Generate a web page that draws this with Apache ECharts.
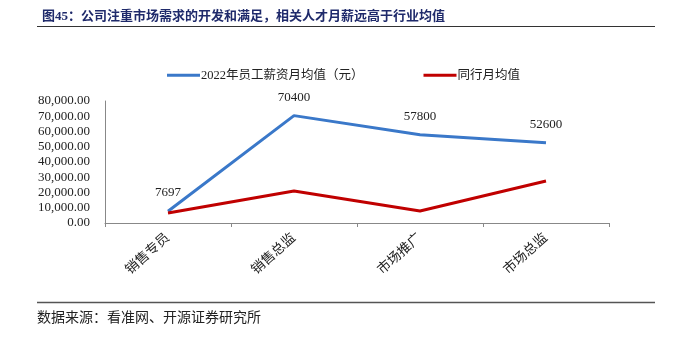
<!DOCTYPE html>
<html><head><meta charset="utf-8">
<script src="https://cdn.jsdelivr.net/npm/echarts@6/dist/echarts.min.js"></script>
<style>html,body{margin:0;padding:0;background:#fff}#c{width:673px;height:341px}</style>
</head><body><div id="c"></div>
<script>
var categories = ['销售专员', '销售总监', '市场推广', '市场总监'];
var salary2022 = [7697, 70400, 57800, 52600];
var peerAvg = [6500, 21000, 7900, 27500];
var seriesNames = ['2022年员工薪资月均值（元）', '同行月均值'];
var titleText = '图45：公司注重市场需求的开发和满足，相关人才月薪远高于行业均值';
var sourceText = '数据来源：看准网、开源证券研究所';

var serif = '"Liberation Serif", "Noto Sans CJK SC", serif';
var chart = echarts.init(document.getElementById('c'));
chart.setOption({
  animation: false,
  title: {
    text: titleText, left: 37, top: 5,
    textStyle: { color: '#1f2a6b', fontSize: 13, fontWeight: 'bold', fontFamily: serif }
  },
  graphic: [
    { type: 'line', shape: { x1: 37, y1: 26.5, x2: 655, y2: 26.5 }, style: { stroke: '#333', lineWidth: 1 } },
    { type: 'line', shape: { x1: 37, y1: 302.5, x2: 655, y2: 302.5 }, style: { stroke: '#555', lineWidth: 1.5 } },
    { type: 'text', left: 37, top: 311, style: { text: sourceText, fill: '#222', font: '14px ' + serif } }
  ],
  legend: {
    top: 64, left: 162, itemGap: 60, itemWidth: 33, itemHeight: 3,
    icon: 'rect',
    textStyle: { fontSize: 12.5, color: '#222', fontFamily: serif, padding: [0, 0, 0, -4] },
    data: seriesNames
  },
  grid: { left: 105, right: 64, top: 101, bottom: 118 },
  xAxis: {
    type: 'category', data: categories, boundaryGap: true,
    axisLine: { lineStyle: { color: '#888', width: 1 } },
    axisTick: { show: true, inside: false, length: 4, lineStyle: { color: '#888' } },
    axisLabel: { rotate: 42, fontSize: 13.5, color: '#222', fontFamily: serif, margin: 13 }
  },
  yAxis: {
    type: 'value', min: 0, max: 80000, interval: 10000,
    axisLine: { show: true, lineStyle: { color: '#888', width: 1 } },
    axisTick: { show: false },
    splitLine: { show: false },
    axisLabel: {
      fontSize: 13, color: '#222', fontFamily: serif, margin: 15,
      formatter: function (v) { return v.toLocaleString('en-US', { minimumFractionDigits: 2, maximumFractionDigits: 2 }); }
    }
  },
  series: [
    {
      name: seriesNames[0], type: 'line', data: salary2022, symbol: 'circle', symbolSize: 0,
      lineStyle: { color: '#3a78c9', width: 3 }, itemStyle: { color: '#3a78c9' },
      label: { show: true, position: 'top', distance: 12, fontSize: 13, color: '#222', fontFamily: serif }
    },
    {
      name: seriesNames[1], type: 'line', data: peerAvg, symbol: 'none',
      lineStyle: { color: '#c00000', width: 3 }, itemStyle: { color: '#c00000' }
    }
  ]
});
</script></body></html>
